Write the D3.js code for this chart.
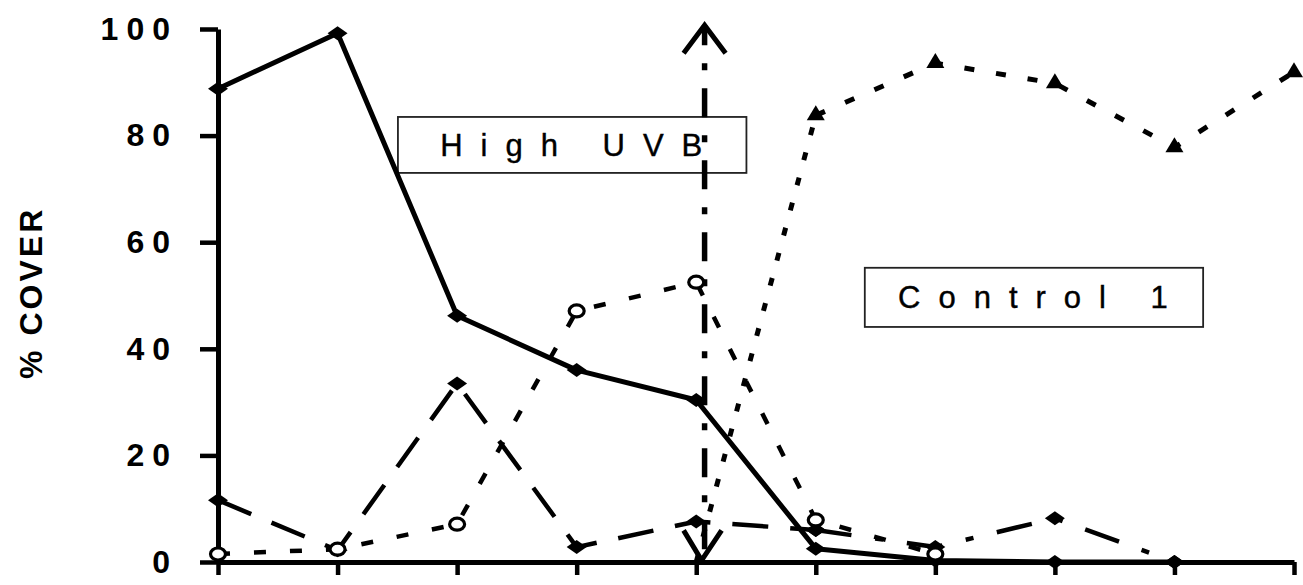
<!DOCTYPE html>
<html><head><meta charset="utf-8">
<script src="https://cdn.jsdelivr.net/npm/d3@7"></script>
<style>body{margin:0;background:#fff}svg{display:block}text{font-family:"Liberation Sans",Arial,sans-serif}</style>
</head><body><svg id="c" width="1303" height="585"></svg>
<script>
// ---- data ----
const categories = [0, 1, 2, 3, 4, 5, 6, 7, 8, 9];
const yTicks = [0, 20, 40, 60, 80, 100];
const yLabel = "% COVER";
const solidDiamond   = [88.8, 99.2, 46.2, 36.0, 30.4, 2.5, 0.3, 0, 0, null];
const longDashDiamond = [11.6, 2.2, 33.5, 2.8, 7.6, 6.0, null, null, null, null];
const dashDotDiamond = [null, null, null, null, null, 6.0, 2.8, 8.2, 0, null];
const dottedCircle   = [1.5, 2.4, 7.1, 47.1, 52.5, 7.9, 1.5, null, null, null];
const risingTriangle = [null, null, null, null, 0, 83.8, null, null, null, null];
const dashedTriangle = [null, null, null, null, null, 83.8, 93.6, 89.8, 77.8, 91.9];
const boxLabels = ["High UVB", "Control 1"];
const boxX0 = [1.505, 5.41], boxX1 = [4.42, 8.24];
const boxY0 = [83.5, 55.2], boxY1 = [73.0, 44.1];
const arrowX = 4.07, arrowFrom = 0.3, arrowTo = 100.7;
const yLabelCenter = 50.5;

// ---- scales ----
const svg = d3.select("#c");
const x = d3.scaleLinear().domain([0, 9]).range([218, 1294]);
const y = d3.scaleLinear().domain([0, 100]).range([562, 29]);

// ---- axes ----
const gy = svg.append("g").attr("transform", `translate(${x(0)},0)`)
  .call(d3.axisLeft(y).tickValues(yTicks).tickSize(18).tickSizeOuter(0).tickPadding(22));
gy.select(".domain").attr("stroke", "#000").attr("stroke-width", 5);
gy.selectAll(".tick line").attr("stroke", "#000").attr("stroke-width", 4.5);
gy.selectAll(".tick text").attr("fill", "#000").attr("font-size", 32).attr("font-weight", "bold")
  .attr("letter-spacing", 8).attr("font-family", '"Liberation Sans",Arial,sans-serif');

const gx = svg.append("g").attr("transform", `translate(0,${y(0)})`)
  .call(d3.axisBottom(x).tickValues(categories).tickSize(13).tickSizeOuter(0).tickFormat(""));
gx.select(".domain").attr("stroke", "#000").attr("stroke-width", 5);
gx.selectAll(".tick line").attr("stroke", "#000").attr("stroke-width", 4.5);

svg.append("text").attr("transform", `translate(42,${y(yLabelCenter)}) rotate(-90)`)
  .attr("text-anchor", "middle").attr("font-size", 32).attr("font-weight", "bold")
  .attr("letter-spacing", 3).text(yLabel);

// ---- annotation boxes ----
boxLabels.forEach((t, i) => {
  const x0 = x(boxX0[i]), x1 = x(boxX1[i]), y0 = y(boxY0[i]), y1 = y(boxY1[i]);
  svg.append("rect").attr("x", x0).attr("y", y0).attr("width", x1 - x0).attr("height", y1 - y0)
    .attr("fill", "#fff").attr("stroke", "#222").attr("stroke-width", 1.8);
  svg.append("text").attr("x", (x0 + x1) / 2 + 8).attr("y", (y0 + y1) / 2 + 11)
    .attr("text-anchor", "middle").attr("font-size", 31).attr("letter-spacing", 18)
    .attr("fill", "#000").attr("stroke", "#000").attr("stroke-width", 0.4).text(t);
});

// ---- lines ----
const line = d3.line().defined(d => d != null).x((d, i) => x(categories[i])).y(d => y(d));
function drawLine(data, dash, w) {
  svg.append("path").datum(data).attr("d", line).attr("fill", "none")
    .attr("stroke", "#000").attr("stroke-width", w)
    .attr("stroke-dasharray", dash).attr("stroke-linecap", "butt").attr("stroke-linejoin", "round");
}
drawLine(dottedCircle, "12,24", 4.5);
drawLine(longDashDiamond, "36,22", 4.5);
drawLine(dashDotDiamond, "36,24,8,24", 4.5);
drawLine(risingTriangle, "8,18", 5);
drawLine(dashedTriangle, "10,22", 5);
drawLine(solidDiamond, null, 5);

// ---- vertical double arrow ----
const ax = x(arrowX), aTop = y(arrowTo), aBot = y(arrowFrom);
svg.append("line").attr("x1", ax).attr("x2", ax).attr("y1", aTop).attr("y2", aBot)
  .attr("stroke", "#000").attr("stroke-width", 5.5)
  .attr("stroke-dasharray", "29,18,7,18").attr("stroke-dashoffset", 9);
svg.append("path").attr("d", `M${ax-21},${aTop+28}L${ax},${aTop}L${ax+21},${aTop+28}`)
  .attr("fill", "none").attr("stroke", "#000").attr("stroke-width", 5).attr("stroke-linejoin", "miter");
svg.append("path").attr("d", `M${ax-21},${aBot-30}L${ax-3},${aBot}L${ax+17},${aBot-30}`)
  .attr("fill", "none").attr("stroke", "#000").attr("stroke-width", 5);

// ---- markers ----
const diamond = "M-10,0L0,-7L10,0L0,7Z";
function diamonds(data) {
  svg.append("g").selectAll("path").data(data.map((v, i) => [i, v]).filter(d => d[1] != null))
    .join("path").attr("d", diamond).attr("fill", "#000")
    .attr("transform", d => `translate(${x(categories[d[0]])},${y(d[1])})`);
}
diamonds(longDashDiamond);
diamonds(dashDotDiamond);
diamonds(solidDiamond);
svg.append("g").selectAll("ellipse").data(dottedCircle.map((v, i) => [i, v]).filter(d => d[1] != null))
  .join("ellipse").attr("cx", d => x(categories[d[0]])).attr("cy", d => y(d[1]))
  .attr("rx", 7.5).attr("ry", 6).attr("fill", "#fff").attr("stroke", "#000").attr("stroke-width", 3.2);
svg.append("g").selectAll("path").data(dashedTriangle.map((v, i) => [i, v]).filter(d => d[1] != null))
  .join("path").attr("d", "M0,-10L9,5L-9,5Z").attr("fill", "#000")
  .attr("transform", d => `translate(${x(categories[d[0]])},${y(d[1])})`);
</script></body></html>
